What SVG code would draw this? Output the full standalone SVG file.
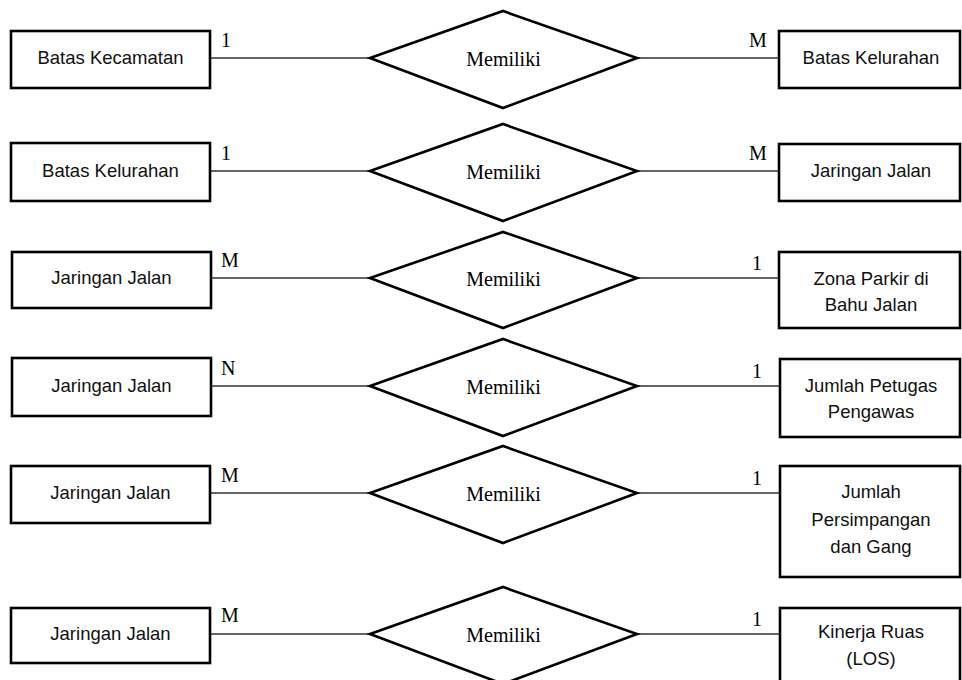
<svg xmlns="http://www.w3.org/2000/svg" width="962" height="680" viewBox="0 0 962 680">
<style>
.box{fill:#fff;stroke:#000;stroke-width:2.6}
.dia{fill:#fff;stroke:#000;stroke-width:2.6;stroke-linejoin:miter}
.lbl{font-family:"Liberation Sans",Arial,sans-serif;font-size:18.5px;fill:#111;text-anchor:middle}
.rel{font-family:"Liberation Serif","Times New Roman",serif;font-size:20px;fill:#000;text-anchor:middle}
.card{font-family:"Liberation Serif","Times New Roman",serif;font-size:20px;fill:#000}
.con{stroke:#333;stroke-width:1.4;fill:none}
</style>
<rect width="962" height="680" fill="#fff"/>
<g id="connectors">
<line class="con" x1="210" y1="58" x2="370" y2="58"/><line class="con" x1="637" y1="58" x2="779" y2="58"/>
<line class="con" x1="210" y1="171" x2="370" y2="171"/><line class="con" x1="637" y1="171" x2="779" y2="171"/>
<line class="con" x1="211" y1="278" x2="370" y2="278"/><line class="con" x1="637" y1="278" x2="779" y2="278"/>
<line class="con" x1="211" y1="386" x2="370" y2="386"/><line class="con" x1="637" y1="386" x2="779" y2="386"/>
<line class="con" x1="210" y1="493" x2="370" y2="493"/><line class="con" x1="637" y1="493" x2="779" y2="493"/>
<line class="con" x1="210" y1="634" x2="370" y2="634"/><line class="con" x1="637" y1="634" x2="779" y2="634"/>
<text class="card" x="221" y="47">1</text><text class="card" x="749" y="47">M</text>
<text class="card" x="221" y="160">1</text><text class="card" x="749" y="160">M</text>
<text class="card" x="221" y="267">M</text><text class="card" x="752" y="270">1</text>
<text class="card" x="221" y="375">N</text><text class="card" x="752" y="378">1</text>
<text class="card" x="221" y="482">M</text><text class="card" x="752" y="485">1</text>
<text class="card" x="221" y="622">M</text><text class="card" x="752" y="626">1</text>
</g>
<g id="e1"><rect class="box" x="11" y="31" width="199" height="57"/><text class="lbl" x="110.5" y="64">Batas Kecamatan</text></g>
<g id="r1"><polygon class="dia" points="370,58 503,11 637,58 503,108"/><text class="rel" x="503.5" y="66">Memiliki</text></g>
<g id="e2"><rect class="box" x="779" y="31" width="181" height="57"/><text class="lbl" x="871" y="64">Batas Kelurahan</text></g>

<g id="e3"><rect class="box" x="11" y="143" width="199" height="58"/><text class="lbl" x="110.5" y="177">Batas Kelurahan</text></g>
<g id="r2"><polygon class="dia" points="370,171 503,124 637,171 503,221"/><text class="rel" x="503.5" y="179">Memiliki</text></g>
<g id="e4"><rect class="box" x="779" y="144" width="181" height="57"/><text class="lbl" x="871" y="177">Jaringan Jalan</text></g>

<g id="e5"><rect class="box" x="12" y="252" width="199" height="56"/><text class="lbl" x="111.5" y="284">Jaringan Jalan</text></g>
<g id="r3"><polygon class="dia" points="370,278 503,232 637,278 503,328"/><text class="rel" x="503.5" y="286">Memiliki</text></g>
<g id="e6"><rect class="box" x="779" y="252" width="181" height="76"/><text class="lbl" x="871" y="285">Zona Parkir di</text><text class="lbl" x="871" y="311">Bahu Jalan</text></g>

<g id="e7"><rect class="box" x="12" y="358" width="199" height="58"/><text class="lbl" x="111.5" y="392">Jaringan Jalan</text></g>
<g id="r4"><polygon class="dia" points="370,386 503,339 637,386 503,436"/><text class="rel" x="503.5" y="394">Memiliki</text></g>
<g id="e8"><rect class="box" x="780" y="359" width="180" height="78"/><text class="lbl" x="871" y="392">Jumlah Petugas</text><text class="lbl" x="871" y="418">Pengawas</text></g>

<g id="e9"><rect class="box" x="11" y="466" width="199" height="57"/><text class="lbl" x="110.5" y="499">Jaringan Jalan</text></g>
<g id="r5"><polygon class="dia" points="370,493 503,446 637,493 503,543"/><text class="rel" x="503.5" y="501">Memiliki</text></g>
<g id="e10"><rect class="box" x="780" y="466" width="180" height="111"/><text class="lbl" x="871" y="498">Jumlah</text><text class="lbl" x="871" y="526">Persimpangan</text><text class="lbl" x="871" y="553">dan Gang</text></g>

<g id="e11"><rect class="box" x="11" y="608" width="199" height="55"/><text class="lbl" x="110.5" y="640">Jaringan Jalan</text></g>
<g id="r6"><polygon class="dia" points="370,634 503,587 637,634 503,684"/><text class="rel" x="503.5" y="642">Memiliki</text></g>
<g id="e12"><rect class="box" x="780" y="608" width="180" height="80"/><text class="lbl" x="871" y="638">Kinerja Ruas</text><text class="lbl" x="871" y="665">(LOS)</text></g>
</svg>
